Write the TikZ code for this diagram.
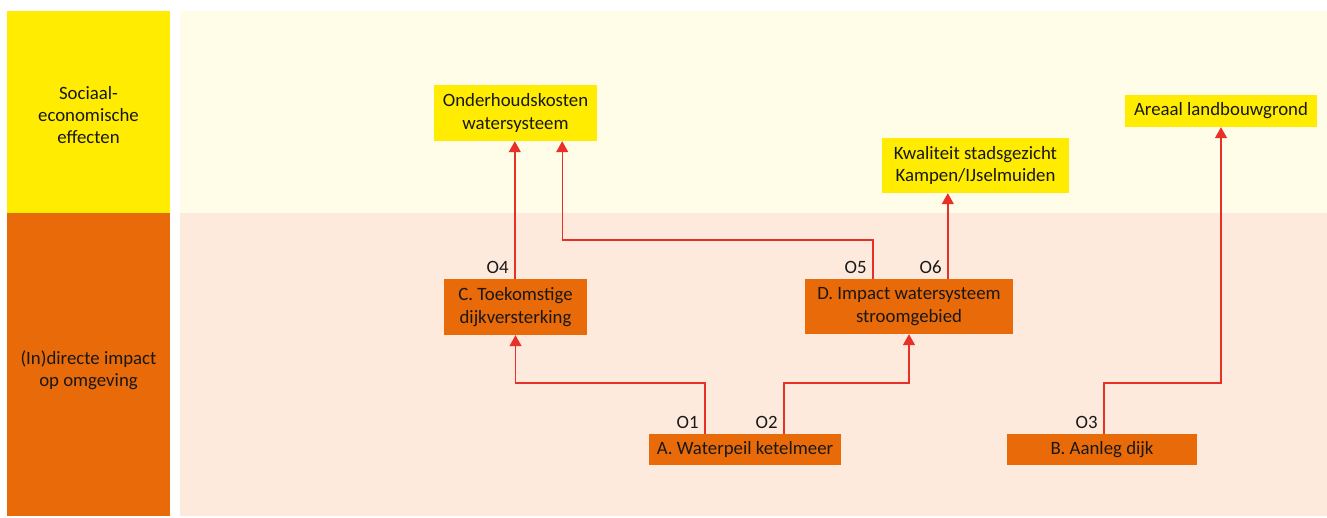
\documentclass[tikz,border=0pt]{standalone}
\usepackage{fontspec}
\setmainfont{Carlito}
\usetikzlibrary{arrows.meta,calc}
\definecolor{rwsyellow}{RGB}{255,236,0}
\definecolor{rwsorange}{RGB}{233,106,8}
\definecolor{paleyellow}{RGB}{255,252,232}
\definecolor{paleorange}{RGB}{253,234,220}
\definecolor{linkred}{RGB}{232,48,38}
\definecolor{ink}{RGB}{24,24,24}
\tikzset{
  effectbox/.style={fill=rwsyellow, text=ink, inner sep=0pt, align=center,
    font=\fontsize{18.8}{22.5}\selectfont},
  impactbox/.style={fill=rwsorange, text=ink, inner sep=0pt, align=center,
    font=\fontsize{18.8}{22.5}\selectfont},
  rowlabel/.style={text=ink, align=center, font=\fontsize{18.8}{22}\selectfont},
  plabel/.style={text=ink, inner sep=0pt, font=\fontsize{18.8}{22}\selectfont},
  conn/.style={draw=linkred, line width=1.4pt,
    -{Triangle[width=12pt,length=11pt]}},
}
\begin{document}
\begin{tikzpicture}[x=1pt,y=-1pt]
  \useasboundingbox (0,0) rectangle (1327,517);
  \fill[white] (0,0) rectangle (1327,517);
  % row bands
  \fill[rwsyellow] (7,11) rectangle (170,213);
  \fill[rwsorange] (7,213) rectangle (170,516);
  \fill[paleyellow] (180,11) rectangle (1327,213);
  \fill[paleorange] (180,213) rectangle (1327,516);
  \node[rowlabel] (row1) at (88.5,115) {Sociaal-\\economische\\effecten};
  \node[rowlabel] (row2) at (88.5,370) {(In)directe impact\\op omgeving};

  % effects
  \node[effectbox, minimum width=163pt, minimum height=56pt] (Ond) at (515.5,113)
    {Onderhoudskosten\\watersysteem};
  \node[effectbox, minimum width=187pt, minimum height=55pt] (Kw) at (975.5,165.5)
    {Kwaliteit stadsgezicht\\Kampen/IJselmuiden};
  \node[effectbox, minimum width=192pt, minimum height=32pt] (Ar) at (1221,111)
    {Areaal landbouwgrond};

  % impacts
  \node[impactbox, minimum width=143pt, minimum height=56pt] (C) at (515.5,307)
    {C. Toekomstige\\dijkversterking};
  \node[impactbox, minimum width=208pt, minimum height=55pt] (D) at (909,306.5)
    {D. Impact watersysteem\\stroomgebied};
  \node[impactbox, minimum width=192pt, minimum height=31pt] (A) at (745,449.5)
    {A. Waterpeil ketelmeer};
  \node[impactbox, minimum width=190pt, minimum height=31pt] (B) at (1102,449.5)
    {B. Aanleg dijk};

  % ports on the box tops
  \coordinate (o1) at ([xshift=56pt]A.north west);
  \coordinate (o2) at ([xshift=135pt]A.north west);
  \coordinate (o3) at ([xshift=97pt]B.north west);
  \coordinate (o4) at ([xshift=71pt]C.north west);
  \coordinate (o5) at ([xshift=68pt]D.north west);
  \coordinate (o6) at ([xshift=143pt]D.north west);
  \coordinate (r1) at (0,383);
  \coordinate (r2) at (0,240);
  \coordinate (o5t) at ([xshift=-35pt]Ond.south east);

  % connectors
  \draw[conn] (o1) -- (o1 |- r1) -| (C.south);
  \draw[conn] (o2) -- (o2 |- r1) -| (D.south);
  \draw[conn] (o3) -- (o3 |- r1) -| (Ar.south);
  \draw[conn] (o4) -- (o4 |- Ond.south);
  \draw[conn] (o5) -- (o5 |- r2) -| (o5t);
  \draw[conn] (o6) -- (o6 |- Kw.south);

  % port labels
  \node[plabel, anchor=south east] (l1) at ([xshift=-6pt,yshift=5pt]o1) {O1};
  \node[plabel, anchor=south east] (l2) at ([xshift=-6pt,yshift=5pt]o2) {O2};
  \node[plabel, anchor=south east] (l3) at ([xshift=-6pt,yshift=5pt]o3) {O3};
  \node[plabel, anchor=south east] (l4) at ([xshift=-6pt,yshift=5pt]o4) {O4};
  \node[plabel, anchor=south east] (l5) at ([xshift=-6pt,yshift=5pt]o5) {O5};
  \node[plabel, anchor=south east] (l6) at ([xshift=-6pt,yshift=5pt]o6) {O6};
\end{tikzpicture}
\end{document}
